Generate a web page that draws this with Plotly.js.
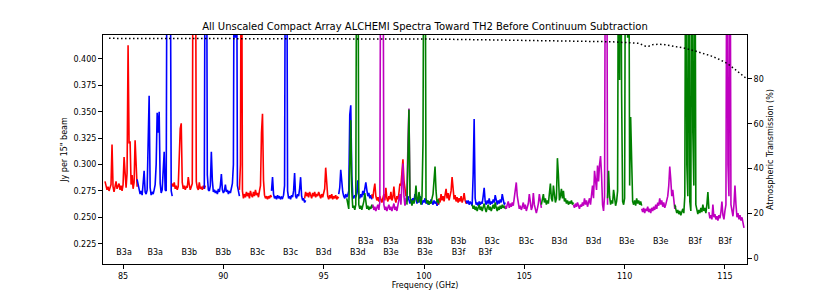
<!DOCTYPE html>
<html>
<head>
<meta charset="utf-8">
<script src="https://cdn.plot.ly/plotly-3.0.1.min.js"></script>
<style>html,body{margin:0;padding:0;background:#fff;}#chart{width:830px;height:297px;}</style>
</head>
<body>
<div id="chart"></div>
<script>
const chanStep = 0.05;

// Spectra (flux in mJy per 15" beam), one array per tuning window, with the window start frequency
const r1Start = 84.10, r1Flux = [284,280,276,279,275,278,281,319,279,274,280,284,277,279,282,276,280,275,281,307,286,278,292,413,320,322,281,290,277,283,323,290,279];
const b1Start = 85.70, b1Flux = [286,281,276,272,275,271,282,294,274,272,276,310,365,278,271,274,272,276,281,300,349,330,350,282,273,276,290,312,276,275,600,620,600,540,275,270];
const r2Start = 87.45, r2Flux = [282,279,283,277,280,276,279,300,334,339,283,277,280,276,279,278,288,281,276,279,282,600,480,600,284,278,276,283,277,279,276,280,277,280];
const b2Start = 89.05, b2Flux = [277,600,620,290,276,275,280,312,285,274,276,273,275,272,277,274,280,291,276,273,275,281,274,276,272,275,273,278,282,300,600,420,600,280,275,270];
const r3Start = 90.80, r3Flux = [276,300,600,275,268,272,269,274,270,273,268,275,271,269,274,270,276,271,273,269,275,280,330,348,285,271,268,270,267,270,268,271,269];
const b3Start = 92.40, b3Flux = [275,288,272,268,270,267,271,268,270,267,269,268,271,280,600,600,275,268,270,267,271,269,275,292,270,268,272,270,277,288,270,266,268,264,266];
const r4Start = 94.05, r4Flux = [268,274,270,273,269,274,271,268,273,270,274,269,272,270,274,271,268,272,269,273,277,297,280,270,267,271,268,272,267,270,268,271,267,269,268];
const b4Start = 95.75, b4Flux = [272,278,295,283,274,270,268,272,269,271,275,347,356,290,270,268,271,269,273,285,270,268,272,269,275,271,278,283,276,270,273,268,271,267];
const r5Start = 97.40, r5Flux = [272,268,276,282,270,266,269,265,270,267,264,268,272,266,278,268,265,270,267,274,266,269,279,268,264,270,267,273,282,280,296,305,285,275,270];
const b5Start = 99.10, b5Flux = [268,265,270,266,263,267,264,268,265,272,266,263,267,264,270,265,262,266,264,268,263,266,262,265,263,267,264,262,266,263,265,261,264,262];
const r6Start = 100.70, r6Flux = [262,268,264,272,266,270,265,271,277,268,273,266,270,275,288,279,267,271,265,269,264,268,265,270,264,267,273,266,263,265];
const b6Start = 102.10, b6Flux = [266,263,266,262,265,263,261,290,343,268,262,264,261,265,262,264,263,270,278,265,262,266,263,268,262,265,263,267,264,271,265,262,266,263,267,264,272,265,262,264];

const g1Start = 96.15, g1Flux = [268,262,258,300,342,275,259,261,257,262,600,600,262,258,261,257,260,265,273,262,258,261,257,260,258,262,259];
const m1Start = 97.45, m1Flux = [262,257,260,256,259,262,257,265,600,600,600,262,257,260,256,259,262,257,260,256,259,263,257,260,256,261,266,272,262,280,301,270,261,265,275,320,353,268];
const g2Start = 99.15, g2Flux = [262,300,352,270,265,261,266,263,268,280,267,264,274,265,262,270,320,600,600,268,263,266,262,265,263,268,272,285,298,275,264,267,263];
const g3Start = 102.40, g3Flux = [262,258,261,257,260,256,259,262,257,260,256,259,263,258,255,259,262,257,260,256,259,262,258,264,259,256,260,257,261,258,262,259,261,258,260];
const m3Start = 104.05, m3Flux = [261,258,262,265,259,263,260,264,261,268,275,283,270,262,258,261,257,260,264,258,262,256,259,263,272,262,257,260,273,262,256,254,258,263,272,262,259];
const g4Start = 105.85, g4Flux = [262,266,272,264,268,262,266,263,270,282,268,265,280,270,264,268,306,290,266,270,277,268,275,265,268,263,266,262,265,263,266,262,264];
const m4Start = 107.45, m4Flux = [262,259,263,260,264,261,258,262,260,264,261,268,262,266,260,264,268,262,275,280,268,294,285,276,299,284,300,308,290,262,256,270,600,600,262];
const g5Start = 109.15, g5Flux = [268,294,270,262,266,263,276,264,261,265,275,600,380,600,367,265,262,268,600,600,420,600,280,345,300,265,262,266,261,268,263,266,262,265,261];
const m5Start = 110.85, m5Flux = [258,255,259,254,258,256,260,255,258,254,259,256,260,257,262,258,264,261,268,262,266,260,264,259,262,265,270,280,298,286,270,276,263,258,261];
const g6Start = 112.50, g6Flux = [262,258,254,257,253,256,252,255,258,254,270,600,300,270,600,265,256,600,330,280,600,262,256,253,257,254,259,255,262,256,259,254,262,274,258];
const m6Start = 114.20, m6Flux = [255,249,252,248,262,250,253,248,251,247,252,249,255,265,252,248,256,262,600,300,270,600,262,255,251,262,280,262,250,254,248,252,247,250,245,240];

// Atmospheric transmission (%)
const transFreq = [84.3, 86, 88, 90, 92, 94, 96, 98, 100, 102, 104, 106, 108, 109.3, 110.1, 110.7, 111.05, 111.2, 111.4, 111.7, 112.0, 112.6, 113.0, 113.5, 113.9, 114.3, 114.7, 115.1, 115.5, 115.8, 116.1];
const transPct  = [98.1, 98.1, 98.0, 98.0, 98.0, 97.9, 97.9, 97.9, 97.8, 97.6, 97.4, 97.2, 96.9, 96.6, 96.2, 95.9, 94.6, 94.6, 95.3, 95.5, 95.3, 94.4, 93.7, 92.5, 91.5, 90.3, 88.8, 87.0, 84.3, 82.0, 80.0];

// Tuning labels
const lowLabelFreq = [85.05, 86.6, 88.3, 90.0, 91.7, 93.35, 95.0, 96.7, 98.35, 100.05, 101.72, 103.05];
const lowLabelText = ["B3a","B3a","B3b","B3b","B3c","B3c","B3d","B3d","B3e","B3e","B3f","B3f"];
const highLabelFreq = [97.1, 98.35, 100.05, 101.72, 103.4, 105.1, 106.75, 108.45, 110.1, 111.8, 113.5, 115.0];
const highLabelText = ["B3a","B3a","B3b","B3b","B3c","B3c","B3d","B3d","B3e","B3e","B3f","B3f"];
const lowLabelLevel = 0.2165, highLabelLevel = 0.2266;

const RED = '#ff0000', BLUE = '#0000ff', GREEN = '#008000', MAG = '#bf00bf';

function spec(start, flux, color) {
  const x = flux.map((_, i) => +(start + i * chanStep).toFixed(3));
  const y = flux.map(v => v / 1000);
  return {x: x, y: y, type: 'scatter', mode: 'lines', line: {color: color, width: 1.6}, hoverinfo: 'skip', showlegend: false};
}

const traces = [
  spec(r1Start, r1Flux, RED), spec(b1Start, b1Flux, BLUE),
  spec(r2Start, r2Flux, RED), spec(b2Start, b2Flux, BLUE),
  spec(r3Start, r3Flux, RED), spec(b3Start, b3Flux, BLUE),
  spec(r4Start, r4Flux, RED), spec(b4Start, b4Flux, BLUE),
  spec(r5Start, r5Flux, RED), spec(b5Start, b5Flux, BLUE),
  spec(r6Start, r6Flux, RED), spec(b6Start, b6Flux, BLUE),
  spec(g1Start, g1Flux, GREEN), spec(m1Start, m1Flux, MAG),
  spec(g2Start, g2Flux, GREEN), spec(g3Start, g3Flux, GREEN),
  spec(m3Start, m3Flux, MAG), spec(g4Start, g4Flux, GREEN),
  spec(m4Start, m4Flux, MAG), spec(g5Start, g5Flux, GREEN),
  spec(m5Start, m5Flux, MAG), spec(g6Start, g6Flux, GREEN),
  spec(m6Start, m6Flux, MAG),
  {x: lowLabelFreq, y: lowLabelFreq.map(() => lowLabelLevel), text: lowLabelText, type: 'scatter', mode: 'text',
   textfont: {family: 'DejaVu Sans', size: 8, color: '#000'}, textposition: 'middle center', showlegend: false, hoverinfo: 'skip'},
  {x: highLabelFreq, y: highLabelFreq.map(() => highLabelLevel), text: highLabelText, type: 'scatter', mode: 'text',
   textfont: {family: 'DejaVu Sans', size: 8, color: '#000'}, textposition: 'middle center', showlegend: false, hoverinfo: 'skip'},
  {x: transFreq, y: transPct, yaxis: 'y2', type: 'scatter', mode: 'lines',
   line: {color: '#000', width: 1.5, dash: '1.5px,2.5px'}, showlegend: false, hoverinfo: 'skip'}
];

const axisFont = {family: 'DejaVu Sans', size: 8, color: '#000'};
const layout = {
  width: 830, height: 297,
  margin: {l: 103, r: 83, t: 35, b: 33, pad: 0},
  paper_bgcolor: '#fff', plot_bgcolor: '#fff',
  font: axisFont,
  showlegend: false,
  title: {text: 'All Unscaled Compact Array ALCHEMI Spectra Toward TH2 Before Continuum Subtraction',
          font: {family: 'DejaVu Sans', size: 10, color: '#000'}, x: 0.5, xref: 'paper', xanchor: 'center',
          y: 0.91, yref: 'container', yanchor: 'middle'},
  xaxis: {range: [84.0, 116.1], tickvals: [85, 90, 95, 100, 105, 110, 115], ticks: 'outside', ticklen: 4, tickcolor: '#000',
          showline: true, mirror: true, linecolor: '#000', linewidth: 1, showgrid: false, zeroline: false,
          tickfont: axisFont, title: {text: 'Frequency (GHz)', font: axisFont, standoff: 2}},
  yaxis: {range: [0.2058, 0.4226], tickvals: [0.225, 0.25, 0.275, 0.3, 0.325, 0.35, 0.375, 0.4], tickformat: '.3f',
          ticks: 'outside', ticklen: 4, tickcolor: '#000', showline: true, linecolor: '#000', linewidth: 1,
          showgrid: false, zeroline: false, tickfont: axisFont,
          title: {text: 'Jy per 15" beam', font: axisFont, standoff: 4}},
  yaxis2: {overlaying: 'y', side: 'right', range: [-2.5, 99.6], tickvals: [0, 20, 40, 60, 80],
           ticks: 'outside', ticklen: 4, tickcolor: '#000', showline: true, linecolor: '#000', linewidth: 1,
           showgrid: false, zeroline: false, tickfont: axisFont,
           title: {text: 'Atmospheric Transmission (%)', font: axisFont, standoff: 4}}
};

Plotly.newPlot('chart', traces, layout, {staticPlot: true, displayModeBar: false});
</script>
</body>
</html>
